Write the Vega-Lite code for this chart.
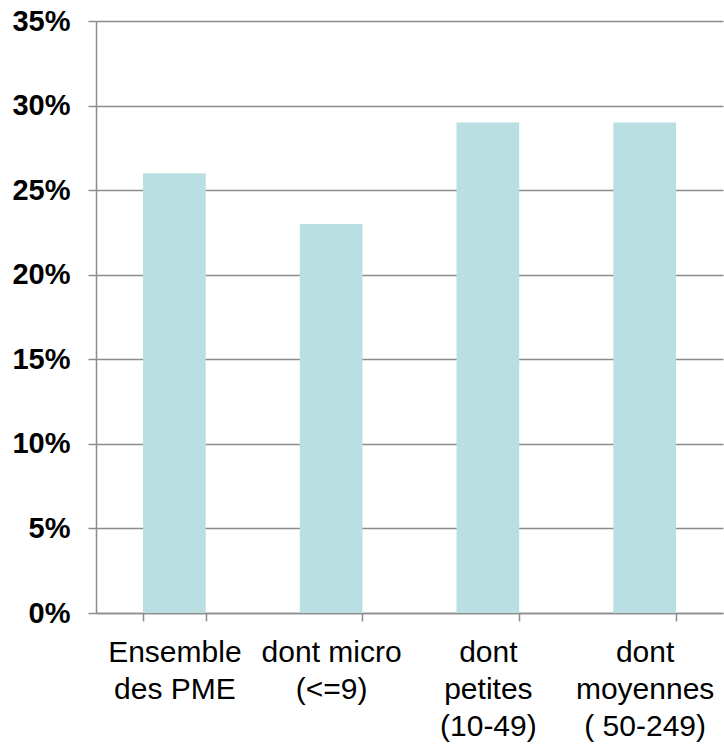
{
  "$schema": "https://vega.github.io/schema/vega-lite/v6.json",
  "width": 627,
  "height": 592,
  "autosize": {"type": "none"},
  "padding": {"left": 96, "top": 21, "right": 1, "bottom": 131},
  "background": "white",
  "data": {"values": [
    {"cat": "Ensemble|des PME", "value": 0.26},
    {"cat": "dont micro|(<=9)", "value": 0.23},
    {"cat": "dont|petites|(10-49)", "value": 0.29},
    {"cat": "dont|moyennes|( 50-249)", "value": 0.29}
  ]},
  "config": {
    "view": {"stroke": null},
    "font": "Liberation Sans"
  },
  "mark": {"type": "bar", "color": "#B9DFE2"},
  "encoding": {
    "x": {
      "field": "cat", "type": "nominal", "sort": null, "title": null,
      "scale": {"paddingInner": 0.6, "paddingOuter": 0.3},
      "axis": {
        "labelAngle": 0,
        "labelExpr": "split(datum.label, '|')",
        "labelFont": "Liberation Sans",
        "labelFontSize": 30,
        "labelColor": "#000000",
        "labelLineHeight": 37,
        "labelBaseline": "top",
        "labelPadding": 16,
        "labelLimit": 300,
        "tickBand": "extent",
        "tickSize": 8,
        "tickColor": "#8c8c8c",
        "tickWidth": 1.5,
        "domainColor": "#8c8c8c",
        "domainWidth": 1.5,
        "grid": false
      }
    },
    "y": {
      "field": "value", "type": "quantitative", "title": null,
      "scale": {"domain": [0, 0.35], "nice": false},
      "axis": {
        "values": [0, 0.05, 0.1, 0.15, 0.2, 0.25, 0.3, 0.35],
        "format": ".0%",
        "labelFont": "Liberation Sans",
        "labelFontSize": 29,
        "labelFontWeight": "bold",
        "labelColor": "#000000",
        "labelPadding": 18,
        "tickSize": 8,
        "tickColor": "#8c8c8c",
        "tickWidth": 1.5,
        "domainColor": "#8c8c8c",
        "domainWidth": 1.5,
        "grid": true,
        "gridColor": "#8c8c8c",
        "gridWidth": 1.5
      }
    }
  }
}
